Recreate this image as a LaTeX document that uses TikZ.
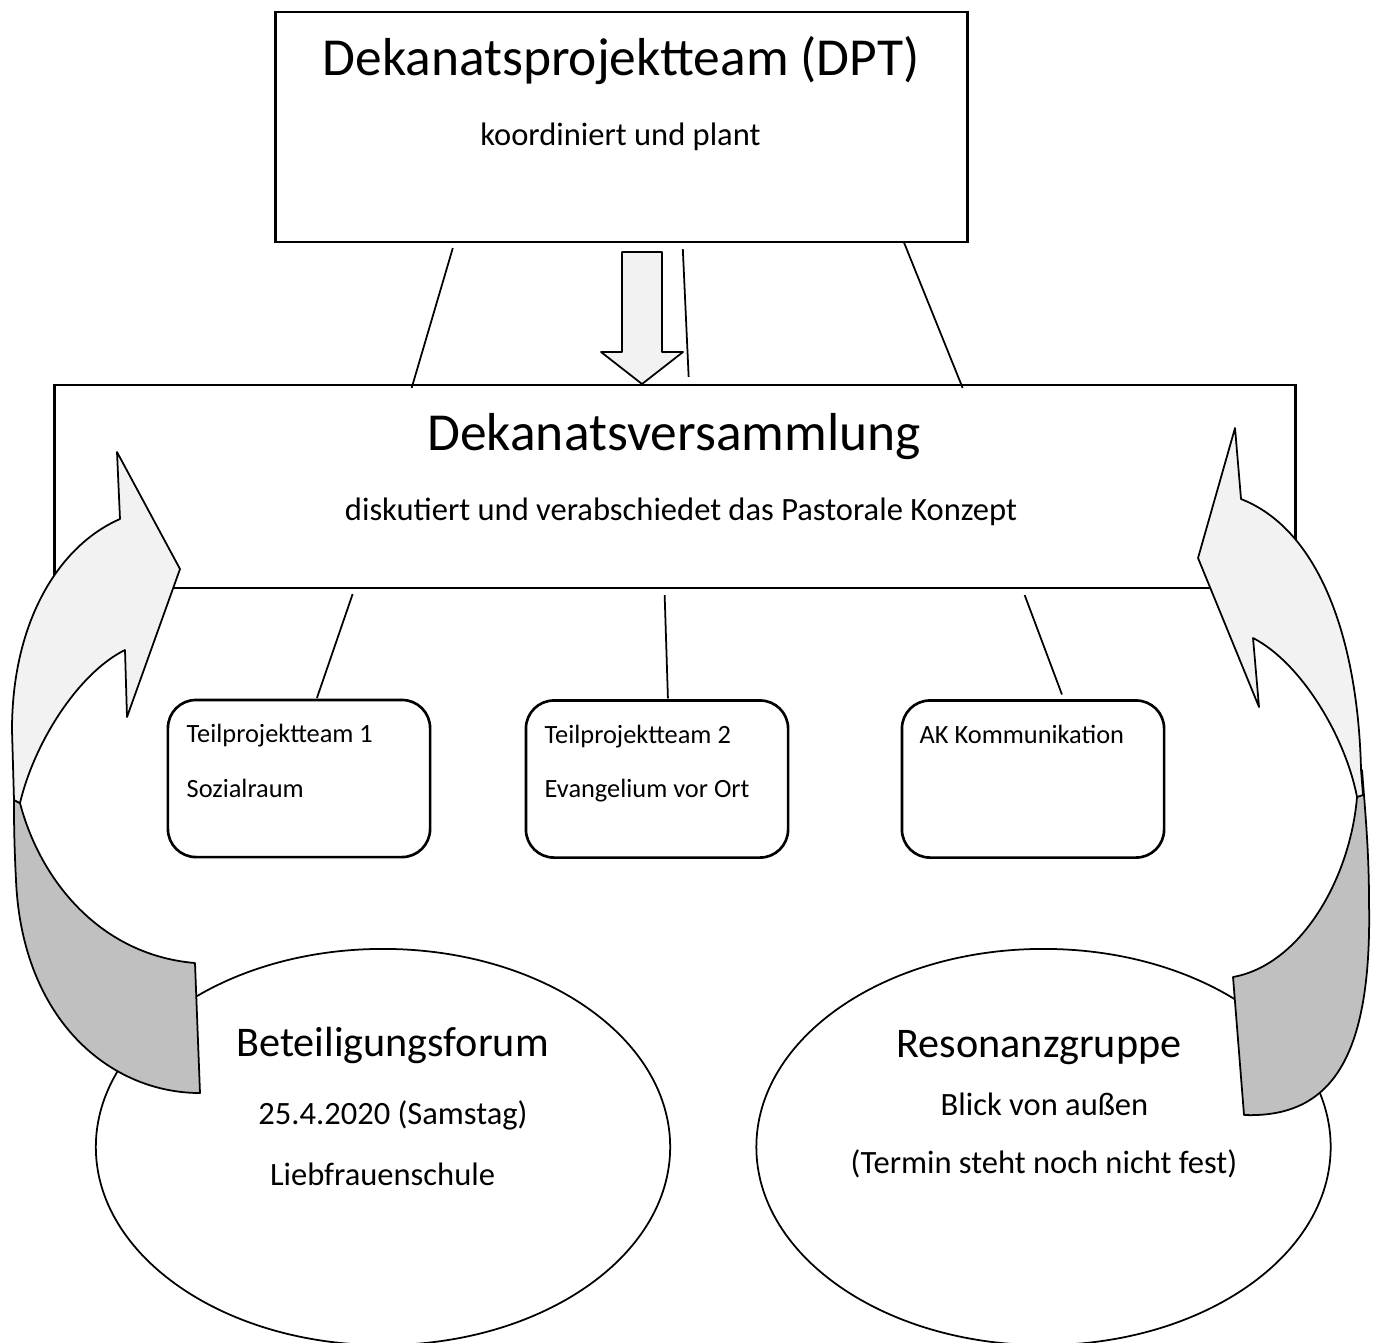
\documentclass[tikz,border=0pt]{standalone}
\usepackage{fontspec}
\setmainfont{Carlito}
\usepackage{tikz}
\usetikzlibrary{shapes.geometric, calc}
\definecolor{lightfill}{HTML}{F2F2F2}
\definecolor{backfill}{HTML}{C0C0C0}
\tikzset{
box/.style={draw, rectangle, line width=0.75pt, inner sep=0pt, outer sep=0pt}, % the two big boxes
team/.style={box, rounded corners=0.28cm, minimum width=2.62cm, minimum height=1.57cm}, % small teams
forum/.style={draw, ellipse, line width=0.5pt, inner sep=0pt, outer sep=0pt, minimum width=5.74cm, minimum height=3.96cm},
link/.style={line width=0.5pt}, % plain connecting lines
turn/.style={draw, line width=0.5pt, line join=round}, % the curved arrows
headline/.style={anchor=base, inner sep=0pt, font=\fontsize{15.2}{18}\selectfont},
midline/.style={anchor=base, inner sep=0pt, font=\fontsize{12}{14}\selectfont},
textline/.style={anchor=base, inner sep=0pt, font=\fontsize{9.25}{11}\selectfont},
smallline/.style={anchor=base west, inner sep=0pt, font=\fontsize{7.5}{9}\selectfont},
}

\begin{document}
\begin{tikzpicture}[x=0.01cm, y=-0.01cm]
    \clip (0,0) rectangle (1377,1342);

    % boxes
    \node[box, minimum width=6.91cm, minimum height=2.30cm] (dpt) at (621.5,127) {};
    \node[headline] (dpttitle) at (621,75) {Dekanatsprojektteam (DPT)};
    \node[textline] (dpttext) at (620.5,145) {koordiniert und plant};

    \node[box, minimum width=12.40cm, minimum height=2.03cm] (dv) at (675,486.5) {};
    \node[headline] (dvtitle) at (674,450) {Dekanatsversammlung};
    \node[textline] (dvtext) at (681,520) {diskutiert und verabschiedet das Pastorale Konzept};

    \node[team] (tpt1) at (299,778.5) {};
    \node[smallline] (tpt1a) at (186,742) {Teilprojektteam 1};
    \node[smallline] (tpt1b) at (186,797) {Sozialraum};
    \node[team] (tpt2) at (657,779) {};
    \node[smallline] (tpt2a) at (544,743) {Teilprojektteam 2};
    \node[smallline] (tpt2b) at (544,797) {Evangelium vor Ort};
    \node[team] (akk) at (1033,779) {};
    \node[smallline] (akka) at (919,743) {AK Kommunikation};

    % lines between the levels
    \draw[link] ($(dpt.south west)+(177,6)$) -- ($(dv.north west)+(357,3)$);
    \draw[link] ($(dpt.south west)+(407,7)$) -- ($(dv.north west)+(634,-8)$);
    \draw[link] ($(dpt.south west)+(628,0)$) -- ($(dv.north west)+(908,3)$);
    \draw[link] ($(dv.south west)+(298,6)$) -- ($(tpt1.north west)+(149,-2)$);
    \draw[link] ($(dv.south west)+(610,7)$) -- ($(tpt2.north west)+(142,-2)$);
    \draw[link] ($(dv.south west)+(970,7)$) -- ($(akk.north west)+(160,-6)$);

    % arrow down
    \draw[turn, fill=lightfill] (622,252) -- (662,252) -- (662,352) -- (683,352)
      -- (642,384) -- (601,352) -- (622,352) -- cycle;

    % forums
    \node[forum] (forum) at (383,1147) {};
    \node[midline] (forumtitle) at (392.5,1056) {Beteiligungsforum};
    \node[textline] (forumdate) at (393,1124) {25.4.2020 (Samstag)};
    \node[textline] (forumplace) at (382.5,1185) {Liebfrauenschule};
    \node[forum] (resonanz) at (1043.5,1147) {};
    \node[midline] (resonanztitle) at (1039,1057) {Resonanzgruppe};
    \node[textline] (resonanztext) at (1044.5,1115) {Blick von außen};
    \node[textline] (resonanzdate) at (1044,1173) {(Termin steht noch nicht fest)};

    % curved arrow left
    \draw[turn, fill=backfill] (20,803) .. controls (40,880) and (100,955) .. (195,963)
      -- (200,1093) .. controls (110,1093) and (22,1020) .. (16,880)
      .. controls (14,840) and (14,820) .. (14,800) -- cycle;
    \draw[turn, fill=lightfill] (20,803) -- (14,800) -- (12,730)
      .. controls (12,620) and (60,545) .. (120,519) -- (117,452) -- (180,569)
      -- (127,717) -- (125,650) .. controls (80,672) and (35,740) .. (20,803) -- cycle;

    % curved arrow right
    \draw[turn, fill=backfill] (1357,797) .. controls (1350,880) and (1300,965) .. (1233,977)
      -- (1244,1115) .. controls (1330,1118) and (1372,1060) .. (1369,903)
      .. controls (1369,850) and (1365,810) .. (1362,770) -- cycle;
    \draw[turn, fill=lightfill] (1357,797) -- (1363,795) -- (1361,770)
      .. controls (1358,640) and (1320,530) .. (1241,499) -- (1235,428) -- (1198,558)
      -- (1259,707) -- (1253,638) .. controls (1300,662) and (1345,735) .. (1357,797) -- cycle;
\end{tikzpicture}
\end{document}
